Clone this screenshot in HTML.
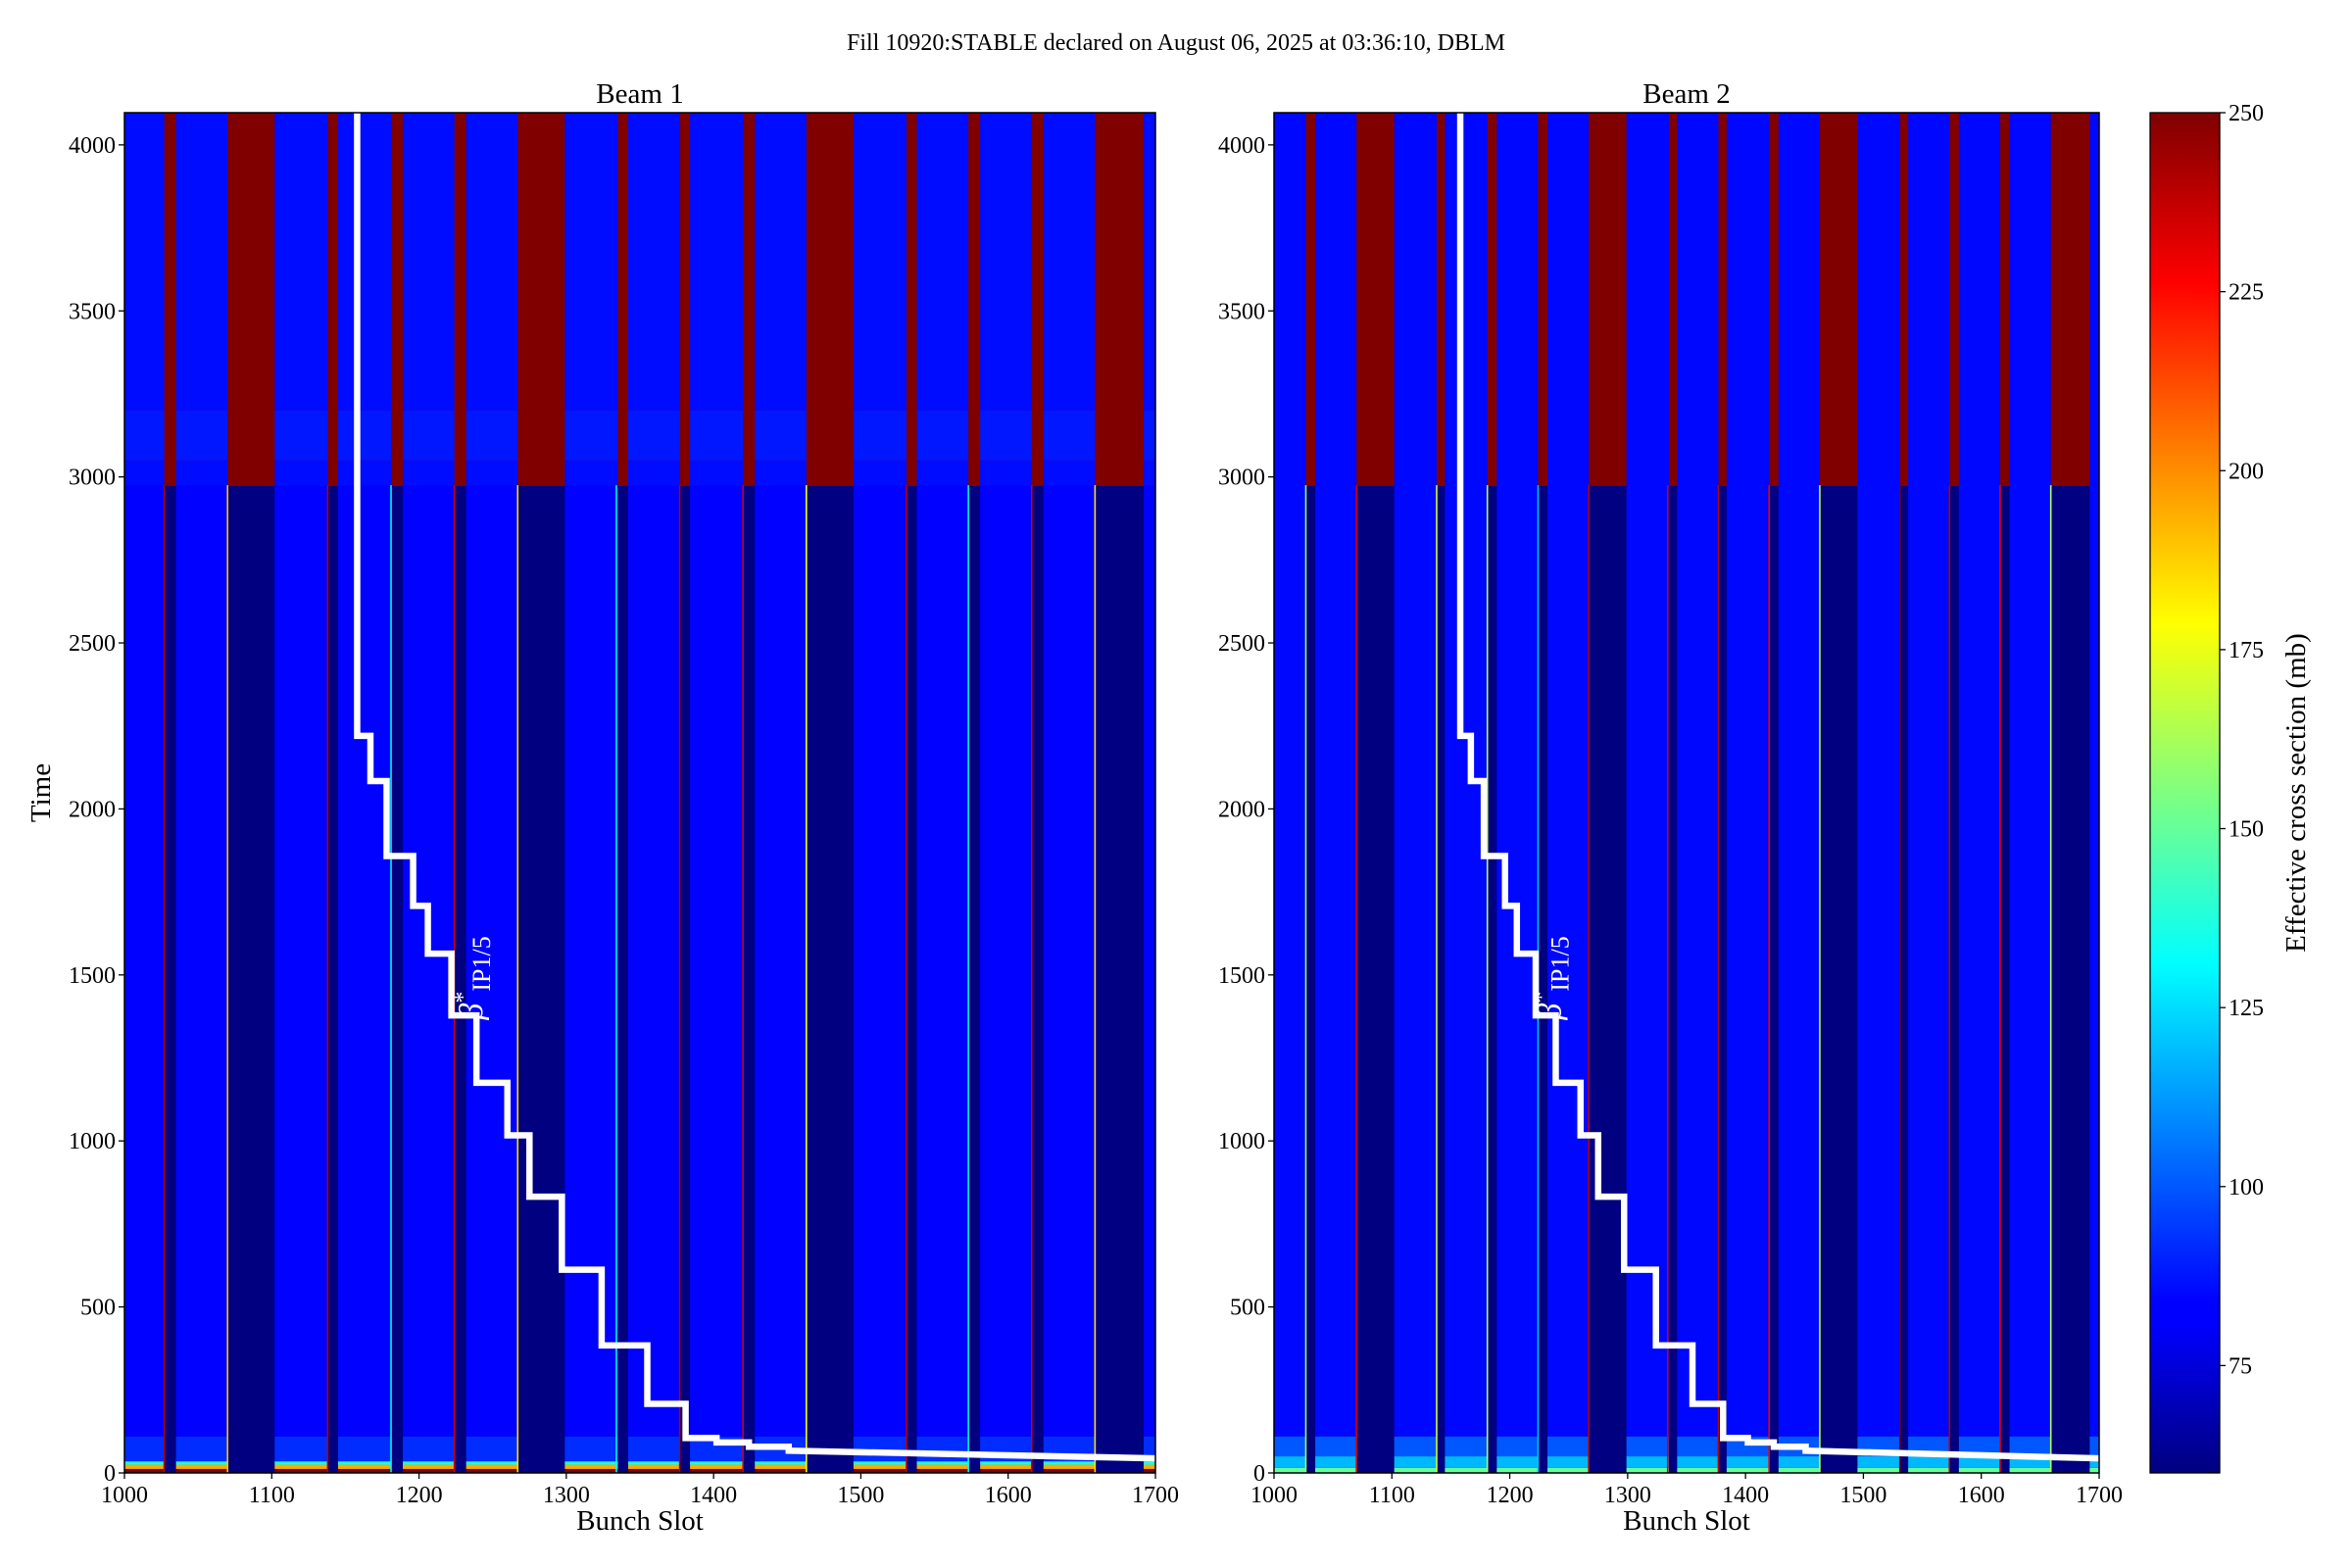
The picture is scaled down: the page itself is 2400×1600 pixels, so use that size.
<!DOCTYPE html>
<html><head><meta charset="utf-8">
<style>
html,body{margin:0;padding:0;background:#fff;}
svg{display:block;font-family:"Liberation Serif","DejaVu Serif",serif;}
</style></head>
<body>
<svg id="fig" width="2400" height="1600" viewBox="0 0 2400 1600" xmlns="http://www.w3.org/2000/svg">
<defs>
<linearGradient id="jetGrad" x1="0" y1="1" x2="0" y2="0">
<stop offset="0" stop-color="#00007f"/>
<stop offset="0.11" stop-color="#0000ff"/>
<stop offset="0.125" stop-color="#0000ff"/>
<stop offset="0.375" stop-color="#00ffff"/>
<stop offset="0.625" stop-color="#ffff00"/>
<stop offset="0.875" stop-color="#ff0000"/>
<stop offset="1" stop-color="#7f0000"/>
</linearGradient>
</defs>
<text x="1200" y="51" font-size="24" text-anchor="middle">Fill 10920:STABLE declared on August 06, 2025 at 03:36:10, DBLM</text>
<g id="p1"></g>
<g id="p2"></g>
<g id="cb"></g>
</svg>
<script>
// ---- data ----
const trainStart = [1000,1035,1102,1145,1189,1232,1299,1342,1384,1428,1495,1538,1581,1624,1692];
const trainEnd   = [1027,1070,1138,1181,1224,1267,1335,1377,1420,1463,1531,1573,1616,1659,1700];
const emptyLowVal = 60;
const emptyHighVal = 250;
const emptySplitTime = 2975;
const b1BandStart = [0,12,25,35,110,2975,3050,3200];
const b1BandEnd   = [12,25,35,110,2975,3050,3200,4097];
const b1BandVal   = [250,195,135,92,84,86,88,86];
const b2BandStart = [0,15,50,110];
const b2BandEnd   = [15,50,110,4097];
const b2BandVal   = [150,118,100,85];
const b1EdgeSlot = [1027,1070,1138,1181,1224,1267,1334,1377,1420,1463,1531,1573,1616,1659];
const b1EdgeVal  = [240,190,240,130,235,185,130,240,235,175,240,130,235,185];
const b2EdgeSlot = [1027,1070,1138,1181,1224,1267,1334,1377,1420,1463,1531,1573,1616,1659];
const b2EdgeVal  = [160,235,170,165,120,240,235,240,230,165,250,240,230,165];
const betaSlot = [1158,1167,1178,1196,1206,1222,1239,1260,1275,1297,1324,1355,1381,1402,1424,1451,1700];
const betaTime = [2220,2084,1858,1708,1564,1378,1175,1017,832,612,384,208,105,92,79,67,44];
const xTicks = [1000,1100,1200,1300,1400,1500,1600,1700];
const yTicks = [0,500,1000,1500,2000,2500,3000,3500,4000];
const cbTicks = [75,100,125,150,175,200,225,250];
const cMin = 60, cMax = 250;
const tMax = 4097;

const NS = "http://www.w3.org/2000/svg";
function jet(v){
  let f=(v-cMin)/(cMax-cMin); f=Math.max(0,Math.min(1,f));
  const c=x=>Math.round(255*Math.max(0,Math.min(1,x)));
  const r=Math.min(4*f-1.5,-4*f+4.5), g=Math.min(4*f-0.5,-4*f+3.5), b=Math.min(4*f+0.5,-4*f+2.5);
  return `rgb(${c(r)},${c(g)},${c(b)})`;
}
function mk(tag,attrs,parent){const e=document.createElementNS(NS,tag);for(const k in attrs)e.setAttribute(k,attrs[k]);parent.appendChild(e);return e;}

function panel(g,x0,x1,title,bStart,bEnd,bVal,eSlot,eVal,showYLabel,prefix){
  const y0=1503,y1=115;
  const X=s=>x0+(s-1000)/700*(x1-x0);
  const Y=t=>y0-t/tMax*(y0-y1);
  let r=mk('rect',{x:x0,y:Y(tMax),width:x1-x0,height:Y(emptySplitTime)-Y(tMax),fill:jet(emptyHighVal)},g);
  
  
  r=mk('rect',{x:x0,y:Y(emptySplitTime),width:x1-x0,height:Y(0)-Y(emptySplitTime),fill:jet(emptyLowVal)},g);
  
  
  for(let i=0;i<trainStart.length;i++){
    for(let j=0;j<bStart.length;j++){
      const c=mk('rect',{x:X(trainStart[i]),y:Y(bEnd[j]),width:X(trainEnd[i])-X(trainStart[i]),height:Y(bStart[j])-Y(bEnd[j]),fill:jet(bVal[j])},g);
      
      
    }
  }
  for(let i=0;i<eSlot.length;i++){
    const c=mk('rect',{x:X(eSlot[i])-0.8,y:Y(emptySplitTime),width:1.6,height:Y(0)-Y(emptySplitTime),fill:jet(eVal[i])},g);
    
    
  }
  let d=`M${X(betaSlot[0])},${Y(tMax)} L${X(betaSlot[0])},${Y(betaTime[0])}`;
  for(let i=1;i<betaSlot.length-1;i++){d+=` L${X(betaSlot[i])},${Y(betaTime[i-1])} L${X(betaSlot[i])},${Y(betaTime[i])}`;}
  const n=betaSlot.length-1; d+=` L${X(betaSlot[n])},${Y(betaTime[n])}`;
  const p=mk('path',{d:d,fill:'none',stroke:'#fff','stroke-width':6.5,'stroke-linejoin':'miter'},g);
  
  
  const lx=X(1243), ly=Y(1365);
  const lab=mk('text',{x:lx,y:ly,fill:'#fff','font-size':30,transform:`rotate(-90 ${lx} ${ly})`},g);
  
  
  lab.innerHTML='<tspan font-style="italic" font-size="34">β</tspan><tspan dy="-12" font-size="24">*</tspan><tspan dy="20" font-size="26">IP1/5</tspan>';
  const fr=mk('rect',{x:x0,y:y1,width:x1-x0,height:y0-y1,fill:'none',stroke:'#000','stroke-width':1.5},g);
  
  
  xTicks.forEach(v=>{
    const t=mk('line',{x1:X(v),x2:X(v),y1:y0,y2:y0+6,stroke:'#000','stroke-width':1.3},g);
    
    
    const l=mk('text',{x:X(v),y:y0+30,'font-size':24,'text-anchor':'middle'},g);
    
    
    l.textContent=v;
  });
  yTicks.forEach(v=>{
    const t=mk('line',{x1:x0-6,x2:x0,y1:Y(v),y2:Y(v),stroke:'#000','stroke-width':1.3},g);
    
    
    const l=mk('text',{x:x0-9,y:Y(v)+8,'font-size':24,'text-anchor':'end'},g);
    
    
    l.textContent=v;
  });
  const tt=mk('text',{x:(x0+x1)/2,y:105,'font-size':29,'text-anchor':'middle'},g);
  
  
  tt.textContent=title;
  const xl=mk('text',{x:(x0+x1)/2,y:1561,'font-size':29,'text-anchor':'middle'},g);
  
  
  xl.textContent='Bunch Slot';
  if(showYLabel){
    const yl=mk('text',{x:51,y:(y0+y1)/2,'font-size':29,'text-anchor':'middle',transform:`rotate(-90 51 ${(y0+y1)/2})`},g);
    
    
    yl.textContent='Time';
  }
}
panel(document.getElementById('p1'),127,1179,'Beam 1',b1BandStart,b1BandEnd,b1BandVal,b1EdgeSlot,b1EdgeVal,true,'beam1');
panel(document.getElementById('p2'),1300,2142,'Beam 2',b2BandStart,b2BandEnd,b2BandVal,b2EdgeSlot,b2EdgeVal,false,'beam2');

(function(){
  const g=document.getElementById('cb');
  const cx0=2194,cx1=2265,cy0=1503,cy1=115;
  const C=v=>cy0-(v-cMin)/(cMax-cMin)*(cy0-cy1);
  const r=mk('rect',{x:cx0,y:cy1,width:cx1-cx0,height:cy0-cy1,fill:'url(#jetGrad)',stroke:'#000','stroke-width':1.3},g);
  
  
  cbTicks.forEach(v=>{
    const t=mk('line',{x1:cx1,x2:cx1+6,y1:C(v),y2:C(v),stroke:'#000','stroke-width':1.3},g);
    
    
    const l=mk('text',{x:cx1+9,y:C(v)+8,'font-size':24},g);
    
    
    l.textContent=v;
  });
  const lx=2352, ly=809;
  const lab=mk('text',{x:lx,y:ly,'font-size':29,'text-anchor':'middle',transform:`rotate(-90 ${lx} ${ly})`},g);
  
  
  lab.textContent='Effective cross section (mb)';
})();
</script>
</body></html>
